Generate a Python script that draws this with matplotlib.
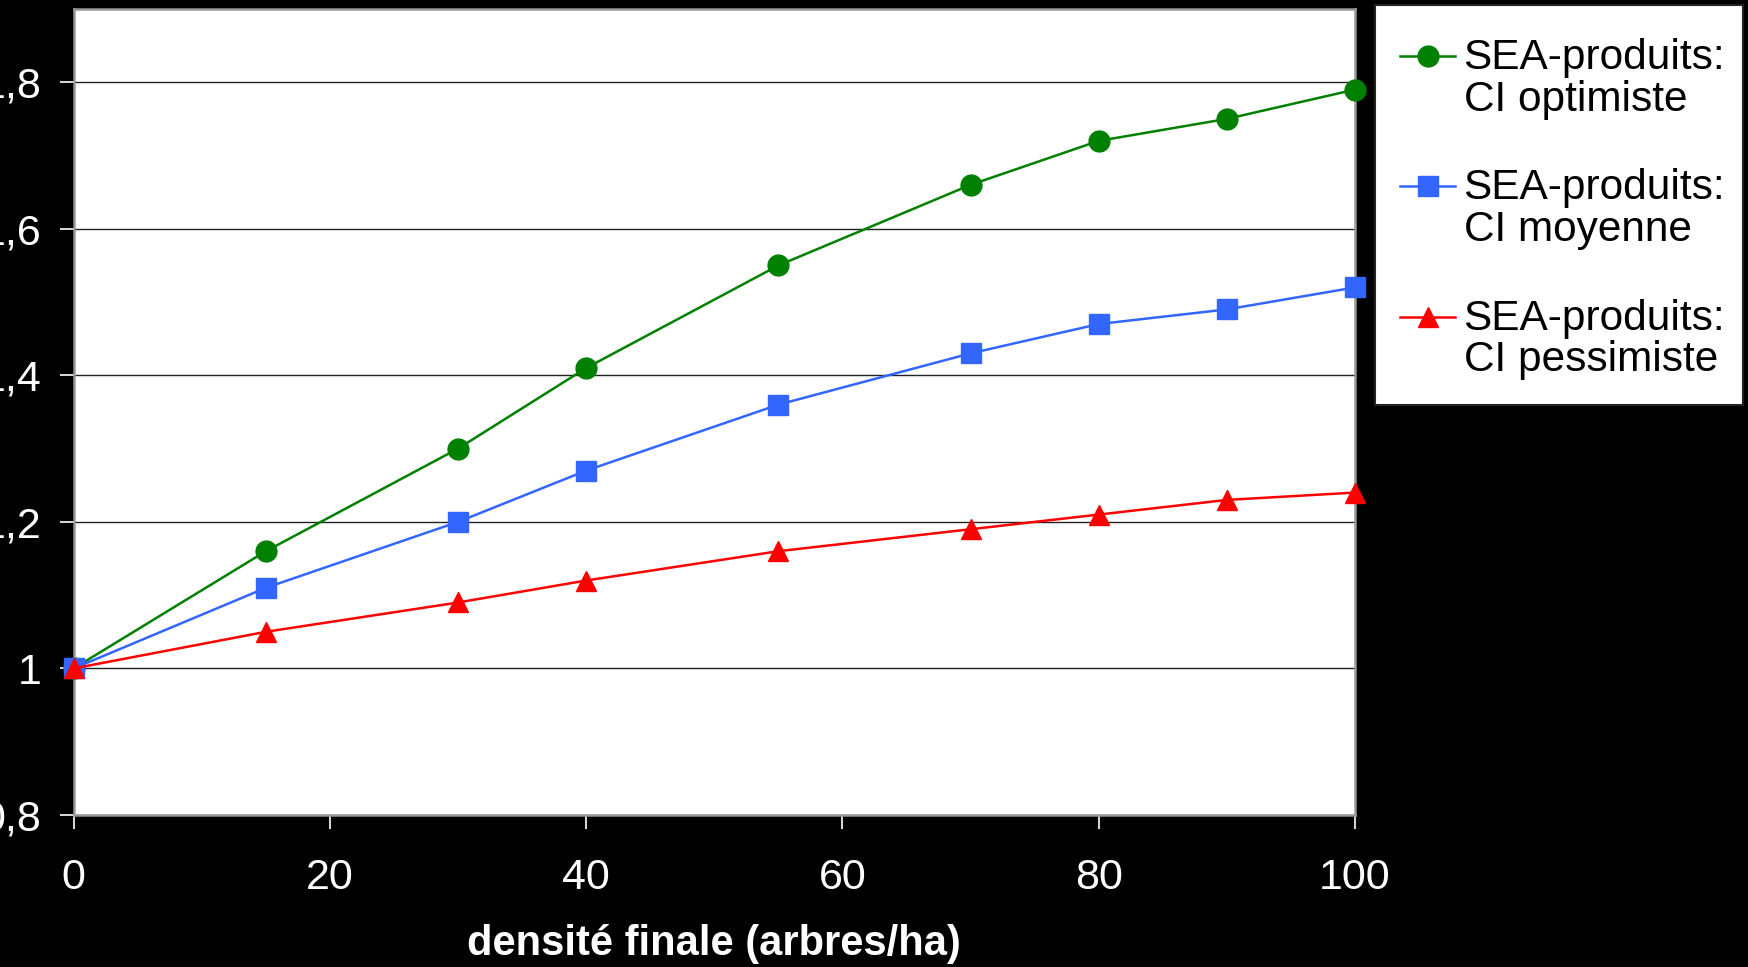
import matplotlib
matplotlib.use("Agg")
import matplotlib.pyplot as plt
from matplotlib.legend_handler import HandlerLine2D
from matplotlib.patches import Rectangle
from matplotlib.ticker import FuncFormatter

plt.rcParams['font.family'] = ['Liberation Sans', 'DejaVu Sans']

# data
densite = [0, 15, 30, 40, 55, 70, 80, 90, 100]
optimiste = [1.00, 1.16, 1.30, 1.41, 1.55, 1.66, 1.72, 1.75, 1.79]
moyenne = [1.00, 1.11, 1.20, 1.27, 1.36, 1.43, 1.47, 1.49, 1.52]
pessimiste = [1.00, 1.05, 1.09, 1.12, 1.16, 1.19, 1.21, 1.23, 1.24]
labels = ["SEA-produits:\nCI optimiste", "SEA-produits:\nCI moyenne", "SEA-produits:\nCI pessimiste"]
xticks = [0, 20, 40, 60, 80, 100]
yticks = [0.8, 1.0, 1.2, 1.4, 1.6, 1.8]


# legend handle sits next to the first line of the label, not the middle
class FirstLineHandler(HandlerLine2D):
    def create_artists(self, legend, orig_handle, xdescent, ydescent, width, height, fontsize, trans):
        arts = super().create_artists(legend, orig_handle, xdescent, ydescent, width, height, fontsize, trans)
        for a in arts:
            a.set_ydata([y + 0.55 * fontsize for y in a.get_ydata()])
        return arts


fig = plt.figure(figsize=(17.49, 9.67), dpi=100, facecolor='black')
ax = fig.add_axes([0.0421, 0.1572, 0.7326, 0.8335])
ax.set_facecolor('white')

l1, = ax.plot(densite, optimiste, color='#008000', lw=1.8, marker='o', ms=15, clip_on=False, zorder=3)
l2, = ax.plot(densite, moyenne, color='#3366FF', lw=1.8, marker='s', ms=14, clip_on=False, zorder=3)
l3, = ax.plot(densite, pessimiste, color='#FF0000', lw=1.8, marker='^', ms=15, clip_on=False, zorder=3)

ax.set_xlim(0, 100)
ax.set_ylim(0.8, 1.9)
ax.set_xticks(xticks)
ax.set_yticks(yticks)
ax.yaxis.set_major_formatter(FuncFormatter(lambda v, p: ('%g' % round(v, 1)).replace('.', ',')))
ax.grid(axis='y', color='#222222', lw=1)
ax.set_axisbelow(True)
for s in ax.spines.values():
    s.set_color('#999999')
    s.set_linewidth(1.8)

ax.tick_params(axis='both', colors='white', labelsize=31, length=10, width=1.2, direction='out')
ax.tick_params(axis='x', pad=21)
ax.tick_params(axis='y', pad=13)
ax.set_xlabel("densité finale (arbres/ha)", color='white', fontsize=30, fontweight='bold', labelpad=19)

# white legend box, drawn separately so the padding matches
fig.patches.append(Rectangle((1375 / 1749, 1 - 405 / 967), 368 / 1749, 400 / 967,
                             transform=fig.transFigure, facecolor='white',
                             edgecolor='#222222', lw=1.5, zorder=1))

leg = fig.legend([l1, l2, l3], labels, loc='upper left', bbox_to_anchor=(1400 / 1749, 1 - 38 / 967),
                 borderaxespad=0, borderpad=0, fontsize=30.5, frameon=False,
                 handlelength=1.3, handletextpad=0.2, labelspacing=1.15,
                 handler_map={matplotlib.lines.Line2D: FirstLineHandler()})
leg.set_zorder(5)
for t in leg.get_texts():
    t.set_linespacing(1.05)

fig.savefig("out.png", dpi=100, facecolor='black')
